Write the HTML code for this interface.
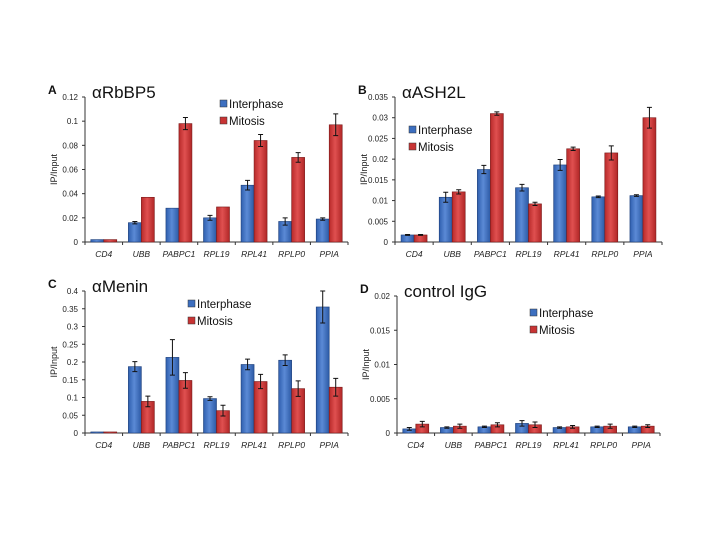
<!DOCTYPE html>
<html><head><meta charset="utf-8"><style>
body{margin:0;background:#fff;}
svg{display:block;font-family:"Liberation Sans",sans-serif;}
</style></head><body>
<svg id="chart" width="720" height="540" viewBox="0 0 720 540">
<defs>
<linearGradient id="gb" x1="0" x2="1"><stop offset="0" stop-color="#2f5fae"/><stop offset="0.45" stop-color="#5b8ad6"/><stop offset="1" stop-color="#2c5aa5"/></linearGradient>
<linearGradient id="gr" x1="0" x2="1"><stop offset="0" stop-color="#b82a2a"/><stop offset="0.45" stop-color="#e05050"/><stop offset="1" stop-color="#b02626"/></linearGradient>
</defs>
</svg>
<script>
const categories=["CD4","UBB","PABPC1","RPL19","RPL41","RPLP0","PPIA"];
const aInter=[0.002,0.016,0.028,0.020,0.047,0.017,0.019];
const aInterErr=[0,0.001,0,0.002,0.004,0.003,0.001];
const aMit=[0.002,0.037,0.098,0.029,0.084,0.070,0.097];
const aMitErr=[0,0,0.005,0,0.005,0.004,0.009];
const aTicks=["0","0.02","0.04","0.06","0.08","0.1","0.12"];
const bInter=[0.0017,0.0108,0.0175,0.0131,0.0186,0.0109,0.0112];
const bInterErr=[0.0001,0.0012,0.001,0.0008,0.0013,0.0002,0.0002];
const bMit=[0.0017,0.0121,0.031,0.0092,0.0225,0.0215,0.030];
const bMitErr=[0.0001,0.0005,0.0004,0.0004,0.0004,0.0017,0.0025];
const bTicks=["0","0.005","0.01","0.015","0.02","0.025","0.03","0.035"];
const cInter=[0.003,0.187,0.213,0.097,0.193,0.205,0.355];
const cInterErr=[0,0.014,0.05,0.005,0.015,0.015,0.045];
const cMit=[0.003,0.089,0.148,0.063,0.145,0.125,0.129];
const cMitErr=[0,0.015,0.022,0.015,0.02,0.022,0.025];
const cTicks=["0","0.05","0.1","0.15","0.2","0.25","0.3","0.35","0.4"];
const dInter=[0.0006,0.0008,0.0009,0.0014,0.0008,0.0009,0.0009];
const dInterErr=[0.0002,0.0001,0.0001,0.0004,0.0001,0.0001,0.0001];
const dMit=[0.0013,0.0010,0.0012,0.0012,0.0009,0.0010,0.0010];
const dMitErr=[0.0004,0.0003,0.0003,0.0004,0.0002,0.0003,0.0002];
const dTicks=["0","0.005","0.01","0.015","0.02"];

const svg=document.getElementById('chart');
const NS="http://www.w3.org/2000/svg";
function mk(tag,attrs,parent){const e=document.createElementNS(NS,tag);for(const k in attrs)e.setAttribute(k,attrs[k]);(parent||svg).appendChild(e);return e;}

function panel(o){
  const g=mk('g',{});
  
  
  const max=parseFloat(o.ticks[o.ticks.length-1]);
  const y=v=>o.y0-(v/max)*(o.y0-o.yTop);
  const bw=(o.x1-o.x0)/categories.length;
  const x=i=>o.x0+bw*i;
  // axes
  const ax=mk('line',{x1:o.x0,x2:o.x0,y1:o.yTop,y2:o.y0,stroke:'#333','stroke-width':1},g);
  
  
  const bx=mk('line',{x1:o.x0,x2:o.x1,y1:o.y0,y2:o.y0,stroke:'#333','stroke-width':1},g);
  
  
  o.ticks.forEach(t=>{
    const v=parseFloat(t);const yy=y(v);
    mk('line',{x1:o.x0-3,x2:o.x0,y1:yy,y2:yy,stroke:'#333'},g);
    const tx=mk('text',{x:o.x0-7,y:yy+3,'font-size':8,'text-anchor':'end',fill:'#222'},g);
    tx.textContent=t;
    
    
  });
  for(let i=0;i<=categories.length;i++){mk('line',{x1:x(i),x2:x(i),y1:o.y0,y2:o.y0+3,stroke:'#333'},g);}
  categories.forEach((c,i)=>{
    const cx=x(i)+bw/2;
    const tx=mk('text',{x:cx,y:o.y0+15,'font-size':8.5,'font-style':'italic','text-anchor':'middle',fill:'#222'},g);
    tx.textContent=c;
    
    
    const w=13;
    [[o.inter,o.interErr,'url(#gb)','#1d3f7a','bar-interphase',cx-w],[o.mit,o.mitErr,'url(#gr)','#7a1a1a','bar-mitosis',cx]].forEach(s=>{
      const v=s[0][i],e=s[1][i];
      const r=mk('rect',{x:s[5],y:y(v),width:w,height:o.y0-y(v),fill:s[2],stroke:s[3],'stroke-width':0.6},g);
      
      
      if(e>0){
        const mx=s[5]+w/2;
        const el=mk('path',{d:`M${mx},${y(v+e)}V${y(v-e)}M${mx-2.5},${y(v+e)}h5M${mx-2.5},${y(v-e)}h5`,stroke:'#111','stroke-width':1,fill:'none'},g);
        
        
      }
    });
  });
  const yl=mk('text',{x:0,y:0,'font-size':9,'text-anchor':'middle',fill:'#222',transform:`translate(${o.x0-28},${(o.y0+o.yTop)/2}) rotate(-90)`},g);
  yl.textContent='IP/Input';
  
  
  const pl=mk('text',{x:o.x0-37,y:o.yTop-3,'font-size':12,'font-weight':'bold',fill:'#111'},g);
  pl.textContent=o.id;
  
  
  const ti=mk('text',{x:o.x0+7,y:o.yTop+1,'font-size':17,fill:'#111'},g);
  ti.textContent=o.title;
  
  
  [['Interphase','#3d6fc0',0],['Mitosis','#c83434',17]].forEach(L=>{
    const r=mk('rect',{x:o.lx,y:o.ly+L[2]-4,width:7,height:7,fill:L[1],stroke:'#333','stroke-width':0.5},g);
    
    
    const t=mk('text',{x:o.lx+9,y:o.ly+L[2]+4,'font-size':11.5,fill:'#111'},g);
    t.textContent=L[0];
    
    
  });
}
panel({id:'A',title:'\u03B1RbBP5',x0:85,x1:348,y0:242,yTop:97,ticks:aTicks,inter:aInter,interErr:aInterErr,mit:aMit,mitErr:aMitErr,lx:220,ly:104});
panel({id:'B',title:'\u03B1ASH2L',x0:395,x1:662,y0:242,yTop:97,ticks:bTicks,inter:bInter,interErr:bInterErr,mit:bMit,mitErr:bMitErr,lx:409,ly:130});
panel({id:'C',title:'\u03B1Menin',x0:85,x1:348,y0:433,yTop:291,ticks:cTicks,inter:cInter,interErr:cInterErr,mit:cMit,mitErr:cMitErr,lx:188,ly:304});
panel({id:'D',title:'control IgG',x0:397,x1:660,y0:433,yTop:296,ticks:dTicks,inter:dInter,interErr:dInterErr,mit:dMit,mitErr:dMitErr,lx:530,ly:313});
</script>
</body></html>
